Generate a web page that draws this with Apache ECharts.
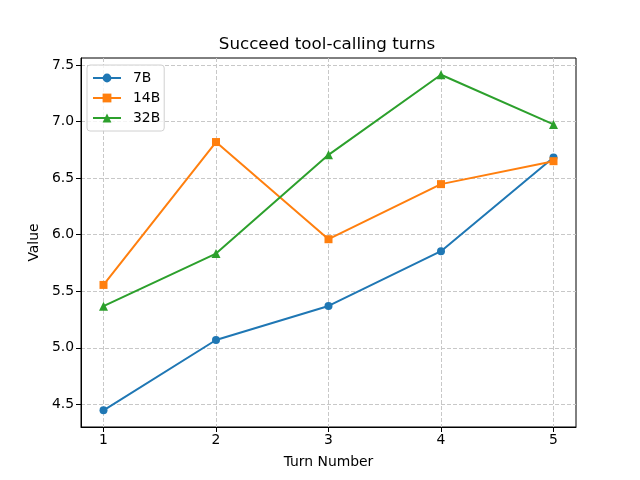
<!DOCTYPE html>
<html>
<head>
<meta charset="utf-8">
<script src="https://cdn.jsdelivr.net/npm/echarts@6/dist/echarts.min.js"></script>
<style>
  html, body { margin: 0; padding: 0; background: #fff; }
  #chart { width: 640px; height: 480px; }
</style>
</head>
<body>
<div id="chart"></div>
<script>
// data
const turns = [1, 2, 3, 4, 5];
const seriesNames = ['7B', '14B', '32B'];
const values7B = [4.447, 5.069, 5.370, 5.854, 6.683];
const values14B = [5.556, 6.819, 5.960, 6.447, 6.650];
const values32B = [5.368, 5.833, 6.706, 7.414, 6.975];
const yTicks = [4.5, 5.0, 5.5, 6.0, 6.5, 7.0, 7.5];

const colors = ['#1f77b4', '#ff7f0e', '#2ca02c'];
const symbols = ['circle', 'rect', 'triangle'];
const sizes = [8, 8, 9];
const allValues = [values7B, values14B, values32B];

const font = 'DejaVu Sans';
const chart = echarts.init(document.getElementById('chart'));

const series = seriesNames.map((name, i) => ({
  name: name,
  type: 'line',
  data: turns.map((t, j) => [t, allValues[i][j]]),
  symbol: symbols[i],
  symbolSize: sizes[i],
  showSymbol: true,
  lineStyle: { width: 2, color: colors[i] },
  itemStyle: { color: colors[i] },
  emphasis: { disabled: true },
  animation: false,
}));

const option = {
  animation: false,
  title: {
    text: 'Succeed tool-calling turns',
    left: 322,
    textAlign: 'center',
    top: 31,
    textStyle: { fontFamily: font, fontSize: 16.7, fontWeight: 'normal', color: '#000' },
  },
  legend: {
    orient: 'vertical',
    left: 87,
    top: 65,
    padding: [6, 4, 6, 5],
    itemWidth: 28,
    itemHeight: 11,
    itemGap: 6,
    borderColor: '#d0d0d0',
    borderWidth: 1,
    borderRadius: 3,
    backgroundColor: 'rgba(255,255,255,0.8)',
    textStyle: { fontFamily: font, fontSize: 13.9, color: '#000', padding: [0, 0, 0, 7] },
    data: seriesNames,
  },
  grid: {
    left: 81,
    right: 64,
    top: 58,
    bottom: 53,
    show: true,
    borderColor: '#000',
    borderWidth: 1,
    containLabel: false,
  },
  xAxis: {
    type: 'value',
    min: 0.8,
    max: 5.2,
    name: 'Turn Number',
    nameLocation: 'middle',
    nameGap: 28,
    nameTextStyle: { fontFamily: font, fontSize: 13.9, color: '#000' },
    axisLine: { show: true, lineStyle: { color: '#000', width: 1 } },
    axisTick: { show: true, length: 5, lineStyle: { color: '#000' }, customValues: turns },
    axisLabel: { fontFamily: font, fontSize: 13.9, color: '#000', margin: 6, customValues: turns },
    splitLine: { show: true, lineStyle: { color: '#c8c8c8', type: [4, 2], width: 1 } },
  },
  yAxis: {
    type: 'value',
    min: 4.3,
    max: 7.562,
    name: 'Value',
    nameLocation: 'middle',
    nameGap: 39,
    nameTextStyle: { fontFamily: font, fontSize: 13.9, color: '#000' },
    axisLine: { show: true, lineStyle: { color: '#000', width: 1 } },
    axisTick: { show: true, length: 5, lineStyle: { color: '#000' }, customValues: yTicks },
    axisLabel: {
      fontFamily: font, fontSize: 13.9, color: '#000', margin: 7,
      customValues: yTicks,
      formatter: v => v.toFixed(1),
    },
    splitLine: { show: true, lineStyle: { color: '#c8c8c8', type: [4, 2], width: 1 } },
  },
  series: series,
};

chart.setOption(option);
</script>
</body>
</html>
